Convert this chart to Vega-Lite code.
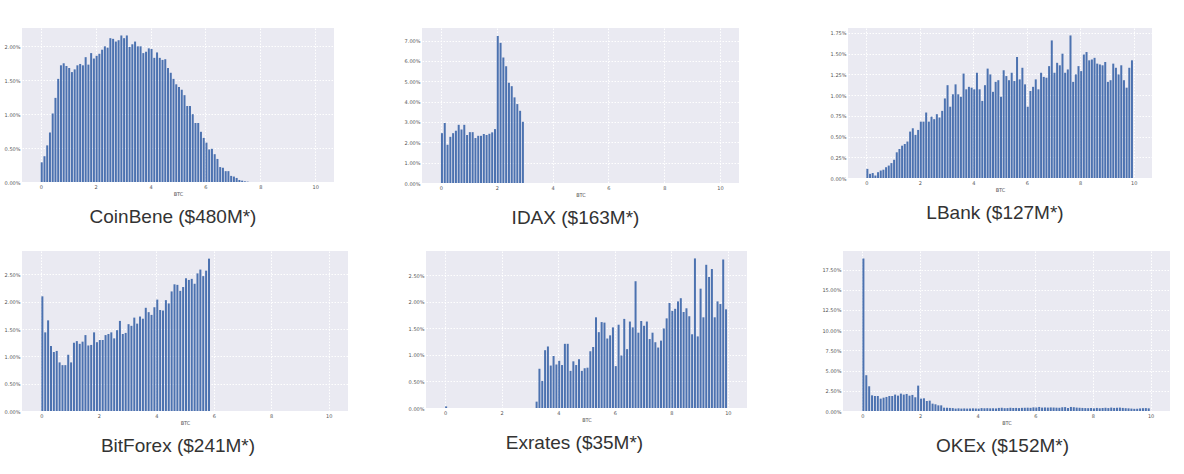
{
  "$schema": "https://vega.github.io/schema/vega-lite/v6.json",
  "padding": {"top": 28, "left": 0, "right": 0, "bottom": 0},
  "background": "white",
  "spacing": 23,
  "config": {
    "view": {"fill": "#EAEAF2", "stroke": null},
    "concat": {"spacing": 20},
    "axis": {
      "domain": false, "ticks": false, "grid": true, "gridColor": "#FFFFFF", "gridDash": [1.5, 1.5], "gridWidth": 1,
      "labelFontSize": 5, "labelColor": "#555555", "labelPadding": 2, "labelFont": "DejaVu Sans",
      "titleFontSize": 5, "titleFontWeight": "normal", "titleColor": "#555555", "titlePadding": 2, "titleFont": "DejaVu Sans"
    },
    "title": {"orient": "bottom", "fontSize": 19, "font": "Liberation Sans", "fontWeight": "normal", "color": "#333333", "offset": 12}
  },
  "datasets": {
    "coinbene": [
      {"btc":0.0,"pct":0.29},{"btc":0.1,"pct":0.38},{"btc":0.2,"pct":0.54},{"btc":0.3,"pct":0.73},{"btc":0.4,"pct":1.01},{"btc":0.5,"pct":1.24},{"btc":0.6,"pct":1.52},{"btc":0.7,"pct":1.72},{"btc":0.8,"pct":1.75},{"btc":0.9,"pct":1.71},
      {"btc":1.0,"pct":1.68},{"btc":1.1,"pct":1.62},{"btc":1.2,"pct":1.66},{"btc":1.3,"pct":1.72},{"btc":1.4,"pct":1.74},{"btc":1.5,"pct":1.72},{"btc":1.6,"pct":1.84},{"btc":1.7,"pct":1.73},{"btc":1.8,"pct":1.90},{"btc":1.9,"pct":1.82},
      {"btc":2.0,"pct":1.86},{"btc":2.1,"pct":1.89},{"btc":2.2,"pct":1.95},{"btc":2.3,"pct":2.00},{"btc":2.4,"pct":1.98},{"btc":2.5,"pct":2.12},{"btc":2.6,"pct":2.11},{"btc":2.7,"pct":2.07},{"btc":2.8,"pct":2.09},{"btc":2.9,"pct":2.16},
      {"btc":3.0,"pct":2.12},{"btc":3.1,"pct":2.16},{"btc":3.2,"pct":1.99},{"btc":3.3,"pct":2.03},{"btc":3.4,"pct":2.07},{"btc":3.5,"pct":2.00},{"btc":3.6,"pct":2.00},{"btc":3.7,"pct":1.90},{"btc":3.8,"pct":1.92},{"btc":3.9,"pct":1.97},
      {"btc":4.0,"pct":1.96},{"btc":4.1,"pct":1.83},{"btc":4.2,"pct":1.91},{"btc":4.3,"pct":1.83},{"btc":4.4,"pct":1.80},{"btc":4.5,"pct":1.81},{"btc":4.6,"pct":1.68},{"btc":4.7,"pct":1.61},{"btc":4.8,"pct":1.52},{"btc":4.9,"pct":1.44},
      {"btc":5.0,"pct":1.40},{"btc":5.1,"pct":1.36},{"btc":5.2,"pct":1.28},{"btc":5.3,"pct":1.12},{"btc":5.4,"pct":1.12},{"btc":5.5,"pct":1.00},{"btc":5.6,"pct":0.87},{"btc":5.7,"pct":0.87},{"btc":5.8,"pct":0.74},{"btc":5.9,"pct":0.65},
      {"btc":6.0,"pct":0.58},{"btc":6.1,"pct":0.48},{"btc":6.2,"pct":0.49},{"btc":6.3,"pct":0.41},{"btc":6.4,"pct":0.34},{"btc":6.5,"pct":0.22},{"btc":6.6,"pct":0.21},{"btc":6.7,"pct":0.16},{"btc":6.8,"pct":0.16},{"btc":6.9,"pct":0.09},
      {"btc":7.0,"pct":0.08},{"btc":7.1,"pct":0.06},{"btc":7.2,"pct":0.03},{"btc":7.3,"pct":0.02},{"btc":7.4,"pct":0.01},{"btc":7.5,"pct":0.005}
    ],
    "idax": [
      {"btc":0.0,"pct":2.45},{"btc":0.1,"pct":2.95},{"btc":0.2,"pct":1.88},{"btc":0.3,"pct":2.27},{"btc":0.4,"pct":2.45},{"btc":0.5,"pct":2.57},{"btc":0.6,"pct":2.86},{"btc":0.7,"pct":2.63},{"btc":0.8,"pct":2.86},{"btc":0.9,"pct":2.36},
      {"btc":1.0,"pct":2.50},{"btc":1.1,"pct":2.50},{"btc":1.2,"pct":2.21},{"btc":1.3,"pct":2.32},{"btc":1.4,"pct":2.32},{"btc":1.5,"pct":2.41},{"btc":1.6,"pct":2.36},{"btc":1.7,"pct":2.42},{"btc":1.8,"pct":2.49},{"btc":1.9,"pct":2.65},
      {"btc":2.0,"pct":7.23},{"btc":2.1,"pct":6.89},{"btc":2.2,"pct":6.17},{"btc":2.3,"pct":5.74},{"btc":2.4,"pct":4.93},{"btc":2.5,"pct":4.76},{"btc":2.6,"pct":4.21},{"btc":2.7,"pct":3.88},{"btc":2.8,"pct":3.55},{"btc":2.9,"pct":3.01}
    ],
    "lbank": [
      {"btc":0.0,"pct":0.11},{"btc":0.1,"pct":0.05},{"btc":0.2,"pct":0.06},{"btc":0.3,"pct":0.03},{"btc":0.4,"pct":0.07},{"btc":0.5,"pct":0.09},{"btc":0.6,"pct":0.10},{"btc":0.7,"pct":0.13},{"btc":0.8,"pct":0.15},{"btc":0.9,"pct":0.18},
      {"btc":1.0,"pct":0.22},{"btc":1.1,"pct":0.31},{"btc":1.2,"pct":0.35},{"btc":1.3,"pct":0.39},{"btc":1.4,"pct":0.41},{"btc":1.5,"pct":0.44},{"btc":1.6,"pct":0.56},{"btc":1.7,"pct":0.60},{"btc":1.8,"pct":0.52},{"btc":1.9,"pct":0.58},
      {"btc":2.0,"pct":0.68},{"btc":2.1,"pct":0.68},{"btc":2.2,"pct":0.79},{"btc":2.3,"pct":0.68},{"btc":2.4,"pct":0.74},{"btc":2.5,"pct":0.71},{"btc":2.6,"pct":0.77},{"btc":2.7,"pct":0.73},{"btc":2.8,"pct":0.81},{"btc":2.9,"pct":0.96},
      {"btc":3.0,"pct":1.12},{"btc":3.1,"pct":0.86},{"btc":3.2,"pct":1.01},{"btc":3.3,"pct":1.13},{"btc":3.4,"pct":1.01},{"btc":3.5,"pct":0.98},{"btc":3.6,"pct":1.26},{"btc":3.7,"pct":1.07},{"btc":3.8,"pct":1.10},{"btc":3.9,"pct":1.09},
      {"btc":4.0,"pct":1.07},{"btc":4.1,"pct":1.27},{"btc":4.2,"pct":1.07},{"btc":4.3,"pct":0.93},{"btc":4.4,"pct":1.12},{"btc":4.5,"pct":1.32},{"btc":4.6,"pct":1.25},{"btc":4.7,"pct":1.04},{"btc":4.8,"pct":1.16},{"btc":4.9,"pct":1.18},
      {"btc":5.0,"pct":0.98},{"btc":5.1,"pct":1.30},{"btc":5.2,"pct":1.23},{"btc":5.3,"pct":1.18},{"btc":5.4,"pct":1.27},{"btc":5.5,"pct":1.17},{"btc":5.6,"pct":1.46},{"btc":5.7,"pct":1.19},{"btc":5.8,"pct":1.33},{"btc":5.9,"pct":1.13},
      {"btc":6.0,"pct":0.86},{"btc":6.1,"pct":1.05},{"btc":6.2,"pct":1.10},{"btc":6.3,"pct":1.19},{"btc":6.4,"pct":1.07},{"btc":6.5,"pct":1.27},{"btc":6.6,"pct":1.22},{"btc":6.7,"pct":1.21},{"btc":6.8,"pct":1.35},{"btc":6.9,"pct":1.66},
      {"btc":7.0,"pct":1.27},{"btc":7.1,"pct":1.39},{"btc":7.2,"pct":1.36},{"btc":7.3,"pct":1.50},{"btc":7.4,"pct":1.27},{"btc":7.5,"pct":1.31},{"btc":7.6,"pct":1.72},{"btc":7.7,"pct":1.16},{"btc":7.8,"pct":1.25},{"btc":7.9,"pct":1.35},
      {"btc":8.0,"pct":1.29},{"btc":8.1,"pct":1.49},{"btc":8.2,"pct":1.52},{"btc":8.3,"pct":1.42},{"btc":8.4,"pct":1.43},{"btc":8.5,"pct":1.45},{"btc":8.6,"pct":1.38},{"btc":8.7,"pct":1.37},{"btc":8.8,"pct":1.36},{"btc":8.9,"pct":1.40},
      {"btc":9.0,"pct":1.16},{"btc":9.1,"pct":1.18},{"btc":9.2,"pct":1.38},{"btc":9.3,"pct":1.33},{"btc":9.4,"pct":1.25},{"btc":9.5,"pct":1.36},{"btc":9.6,"pct":1.18},{"btc":9.7,"pct":1.09},{"btc":9.8,"pct":1.33},{"btc":9.9,"pct":1.42}
    ],
    "bitforex": [
      {"btc":0.0,"pct":2.10},{"btc":0.1,"pct":1.44},{"btc":0.2,"pct":1.66},{"btc":0.3,"pct":1.19},{"btc":0.4,"pct":1.08},{"btc":0.5,"pct":1.10},{"btc":0.6,"pct":0.89},{"btc":0.7,"pct":0.84},{"btc":0.8,"pct":0.84},{"btc":0.9,"pct":1.03},
      {"btc":1.0,"pct":0.89},{"btc":1.1,"pct":1.25},{"btc":1.2,"pct":1.28},{"btc":1.3,"pct":1.23},{"btc":1.4,"pct":1.27},{"btc":1.5,"pct":1.39},{"btc":1.6,"pct":1.20},{"btc":1.7,"pct":1.21},{"btc":1.8,"pct":1.44},{"btc":1.9,"pct":1.26},
      {"btc":2.0,"pct":1.30},{"btc":2.1,"pct":1.30},{"btc":2.2,"pct":1.39},{"btc":2.3,"pct":1.41},{"btc":2.4,"pct":1.44},{"btc":2.5,"pct":1.33},{"btc":2.6,"pct":1.48},{"btc":2.7,"pct":1.65},{"btc":2.8,"pct":1.41},{"btc":2.9,"pct":1.43},
      {"btc":3.0,"pct":1.59},{"btc":3.1,"pct":1.56},{"btc":3.2,"pct":1.71},{"btc":3.3,"pct":1.60},{"btc":3.4,"pct":1.73},{"btc":3.5,"pct":1.69},{"btc":3.6,"pct":1.89},{"btc":3.7,"pct":1.81},{"btc":3.8,"pct":1.76},{"btc":3.9,"pct":1.90},
      {"btc":4.0,"pct":2.04},{"btc":4.1,"pct":1.85},{"btc":4.2,"pct":1.84},{"btc":4.3,"pct":2.03},{"btc":4.4,"pct":1.97},{"btc":4.5,"pct":2.19},{"btc":4.6,"pct":2.32},{"btc":4.7,"pct":2.31},{"btc":4.8,"pct":2.20},{"btc":4.9,"pct":2.27},
      {"btc":5.0,"pct":2.43},{"btc":5.1,"pct":2.40},{"btc":5.2,"pct":2.42},{"btc":5.3,"pct":2.33},{"btc":5.4,"pct":2.52},{"btc":5.5,"pct":2.59},{"btc":5.6,"pct":2.47},{"btc":5.7,"pct":2.57},{"btc":5.8,"pct":2.79}
    ],
    "exrates": [
      {"btc":0.0,"pct":0.03},
      {"btc":3.2,"pct":0.12},{"btc":3.3,"pct":0.74},{"btc":3.4,"pct":0.51},{"btc":3.5,"pct":1.09},{"btc":3.6,"pct":1.16},{"btc":3.7,"pct":0.80},{"btc":3.8,"pct":0.98},{"btc":3.9,"pct":0.82},
      {"btc":4.0,"pct":0.89},{"btc":4.1,"pct":0.81},{"btc":4.2,"pct":1.21},{"btc":4.3,"pct":1.21},{"btc":4.4,"pct":0.70},{"btc":4.5,"pct":0.88},{"btc":4.6,"pct":0.81},{"btc":4.7,"pct":0.92},{"btc":4.8,"pct":0.70},{"btc":4.9,"pct":0.75},
      {"btc":5.0,"pct":0.76},{"btc":5.1,"pct":1.07},{"btc":5.2,"pct":1.15},{"btc":5.3,"pct":1.71},{"btc":5.4,"pct":1.43},{"btc":5.5,"pct":1.62},{"btc":5.6,"pct":1.61},{"btc":5.7,"pct":1.31},{"btc":5.8,"pct":1.37},{"btc":5.9,"pct":1.52},
      {"btc":6.0,"pct":0.79},{"btc":6.1,"pct":1.57},{"btc":6.2,"pct":0.99},{"btc":6.3,"pct":1.68},{"btc":6.4,"pct":1.11},{"btc":6.5,"pct":1.63},{"btc":6.6,"pct":1.52},{"btc":6.7,"pct":2.39},{"btc":6.8,"pct":1.42},{"btc":6.9,"pct":1.64},
      {"btc":7.0,"pct":1.55},{"btc":7.1,"pct":1.63},{"btc":7.2,"pct":1.30},{"btc":7.3,"pct":1.42},{"btc":7.4,"pct":1.24},{"btc":7.5,"pct":1.14},{"btc":7.6,"pct":1.27},{"btc":7.7,"pct":1.50},{"btc":7.8,"pct":1.69},{"btc":7.9,"pct":1.98},
      {"btc":8.0,"pct":1.83},{"btc":8.1,"pct":1.87},{"btc":8.2,"pct":2.01},{"btc":8.3,"pct":2.07},{"btc":8.4,"pct":1.81},{"btc":8.5,"pct":1.88},{"btc":8.6,"pct":1.73},{"btc":8.7,"pct":1.39},{"btc":8.8,"pct":2.82},{"btc":8.9,"pct":1.35},
      {"btc":9.0,"pct":2.25},{"btc":9.1,"pct":1.71},{"btc":9.2,"pct":2.70},{"btc":9.3,"pct":2.47},{"btc":9.4,"pct":2.62},{"btc":9.5,"pct":1.71},{"btc":9.6,"pct":2.01},{"btc":9.7,"pct":1.96},{"btc":9.8,"pct":2.80},{"btc":9.9,"pct":1.86}
    ],
    "okex": [
      {"btc":0.0,"pct":18.87},{"btc":0.1,"pct":4.43},{"btc":0.2,"pct":3.06},{"btc":0.3,"pct":1.94},{"btc":0.4,"pct":1.86},{"btc":0.5,"pct":1.86},{"btc":0.6,"pct":1.53},{"btc":0.7,"pct":1.65},{"btc":0.8,"pct":1.74},{"btc":0.9,"pct":1.86},
      {"btc":1.0,"pct":1.86},{"btc":1.1,"pct":2.03},{"btc":1.2,"pct":1.90},{"btc":1.3,"pct":2.15},{"btc":1.4,"pct":2.03},{"btc":1.5,"pct":2.11},{"btc":1.6,"pct":1.90},{"btc":1.7,"pct":1.99},{"btc":1.8,"pct":1.70},{"btc":1.9,"pct":3.14},
      {"btc":2.0,"pct":1.53},{"btc":2.1,"pct":1.57},{"btc":2.2,"pct":1.24},{"btc":2.3,"pct":1.28},{"btc":2.4,"pct":0.91},{"btc":2.5,"pct":0.83},{"btc":2.6,"pct":0.70},{"btc":2.7,"pct":0.70},{"btc":2.8,"pct":0.41},{"btc":2.9,"pct":0.40},
      {"btc":3.0,"pct":0.38},{"btc":3.1,"pct":0.36},{"btc":3.2,"pct":0.30},{"btc":3.3,"pct":0.33},{"btc":3.4,"pct":0.30},{"btc":3.5,"pct":0.32},{"btc":3.6,"pct":0.30},{"btc":3.7,"pct":0.31},{"btc":3.8,"pct":0.33},{"btc":3.9,"pct":0.31},
      {"btc":4.0,"pct":0.30},{"btc":4.1,"pct":0.36},{"btc":4.2,"pct":0.34},{"btc":4.3,"pct":0.35},{"btc":4.4,"pct":0.33},{"btc":4.5,"pct":0.34},{"btc":4.6,"pct":0.32},{"btc":4.7,"pct":0.38},{"btc":4.8,"pct":0.40},{"btc":4.9,"pct":0.35},
      {"btc":5.0,"pct":0.36},{"btc":5.1,"pct":0.40},{"btc":5.2,"pct":0.37},{"btc":5.3,"pct":0.38},{"btc":5.4,"pct":0.36},{"btc":5.5,"pct":0.39},{"btc":5.6,"pct":0.40},{"btc":5.7,"pct":0.41},{"btc":5.8,"pct":0.39},{"btc":5.9,"pct":0.45},
      {"btc":6.0,"pct":0.43},{"btc":6.1,"pct":0.50},{"btc":6.2,"pct":0.42},{"btc":6.3,"pct":0.44},{"btc":6.4,"pct":0.42},{"btc":6.5,"pct":0.44},{"btc":6.6,"pct":0.43},{"btc":6.7,"pct":0.41},{"btc":6.8,"pct":0.40},{"btc":6.9,"pct":0.46},
      {"btc":7.0,"pct":0.48},{"btc":7.1,"pct":0.37},{"btc":7.2,"pct":0.50},{"btc":7.3,"pct":0.47},{"btc":7.4,"pct":0.42},{"btc":7.5,"pct":0.40},{"btc":7.6,"pct":0.38},{"btc":7.7,"pct":0.36},{"btc":7.8,"pct":0.35},{"btc":7.9,"pct":0.37},
      {"btc":8.0,"pct":0.33},{"btc":8.1,"pct":0.38},{"btc":8.2,"pct":0.35},{"btc":8.3,"pct":0.37},{"btc":8.4,"pct":0.40},{"btc":8.5,"pct":0.36},{"btc":8.6,"pct":0.42},{"btc":8.7,"pct":0.38},{"btc":8.8,"pct":0.40},{"btc":8.9,"pct":0.42},
      {"btc":9.0,"pct":0.38},{"btc":9.1,"pct":0.35},{"btc":9.2,"pct":0.33},{"btc":9.3,"pct":0.30},{"btc":9.4,"pct":0.27},{"btc":9.5,"pct":0.28},{"btc":9.6,"pct":0.32},{"btc":9.7,"pct":0.35},{"btc":9.8,"pct":0.36},{"btc":9.9,"pct":0.33}
    ]
  },
  "vconcat": [
    {
      "hconcat": [
        {
          "width": 312, "height": 154,
          "title": {"text": "CoinBene ($480M*)", "dx": -5},
          "data": {"name": "coinbene"},
          "mark": {"type": "bar", "color": "#4C72B0", "size": 2, "xOffset": 1},
          "encoding": {
            "x": {"field": "btc", "type": "quantitative", "scale": {"domain": [-0.5, 10.5], "nice": false, "zero": false}, "axis": {"values": [0, 2, 4, 6, 8, 10], "title": "BTC", "format": "d"}},
            "y": {"field": "pct", "type": "quantitative", "scale": {"domain": [0, 2.27], "nice": false}, "axis": {"values": [0, 0.5, 1, 1.5, 2], "title": null, "minExtent": 22, "labelExpr": "format(datum.value, '.2f') + '%'"}}
          }
        },
        {
          "width": 317, "height": 155,
          "title": {"text": "IDAX ($163M*)", "dx": -5},
          "data": {"name": "idax"},
          "mark": {"type": "bar", "color": "#4C72B0", "size": 2, "xOffset": 1},
          "encoding": {
            "x": {"field": "btc", "type": "quantitative", "scale": {"domain": [-0.5, 10.5], "nice": false, "zero": false}, "axis": {"values": [0, 2, 4, 6, 8, 10], "title": "BTC", "format": "d"}},
            "y": {"field": "pct", "type": "quantitative", "scale": {"domain": [0, 7.62], "nice": false}, "axis": {"values": [0, 1, 2, 3, 4, 5, 6, 7], "title": null, "minExtent": 68, "labelExpr": "format(datum.value, '.2f') + '%'"}}
          }
        },
        {
          "width": 304, "height": 150,
          "title": {"text": "LBank ($127M*)", "dx": -5},
          "data": {"name": "lbank"},
          "mark": {"type": "bar", "color": "#4C72B0", "size": 2, "xOffset": 1},
          "encoding": {
            "x": {"field": "btc", "type": "quantitative", "scale": {"domain": [-0.5, 10.5], "nice": false, "zero": false}, "axis": {"values": [0, 2, 4, 6, 8, 10], "title": "BTC", "format": "d"}},
            "y": {"field": "pct", "type": "quantitative", "scale": {"domain": [0, 1.81], "nice": false}, "axis": {"values": [0, 0.25, 0.5, 0.75, 1, 1.25, 1.5, 1.75], "title": null, "minExtent": 89, "labelExpr": "format(datum.value, '.2f') + '%'"}}
          }
        }
      ]
    },
    {
      "hconcat": [
        {
          "width": 326, "height": 160,
          "title": {"text": "BitForex ($241M*)", "dx": -7},
          "data": {"name": "bitforex"},
          "mark": {"type": "bar", "color": "#4C72B0", "size": 2, "xOffset": 1},
          "encoding": {
            "x": {"field": "btc", "type": "quantitative", "scale": {"domain": [-0.5, 10.5], "nice": false, "zero": false}, "axis": {"values": [0, 2, 4, 6, 8, 10], "title": "BTC", "format": "d"}},
            "y": {"field": "pct", "type": "quantitative", "scale": {"domain": [0, 2.93], "nice": false}, "axis": {"values": [0, 0.5, 1, 1.5, 2, 2.5], "title": null, "minExtent": 16, "labelExpr": "format(datum.value, '.2f') + '%'"}}
          }
        },
        {
          "width": 321, "height": 157,
          "title": {"text": "Exrates ($35M*)", "dx": -12},
          "data": {"name": "exrates"},
          "mark": {"type": "bar", "color": "#4C72B0", "size": 2, "xOffset": 1},
          "encoding": {
            "x": {"field": "btc", "type": "quantitative", "scale": {"domain": [-0.5, 10.5], "nice": false, "zero": false}, "axis": {"values": [0, 2, 4, 6, 8, 10], "title": "BTC", "format": "d"}},
            "y": {"field": "pct", "type": "quantitative", "scale": {"domain": [0, 2.96], "nice": false}, "axis": {"values": [0, 0.5, 1, 1.5, 2, 2.5], "title": null, "minExtent": 58, "labelExpr": "format(datum.value, '.2f') + '%'"}}
          }
        },
        {
          "width": 327, "height": 160,
          "title": {"text": "OKEx ($152M*)", "dx": -4},
          "data": {"name": "okex"},
          "mark": {"type": "bar", "color": "#4C72B0", "size": 2, "xOffset": 1},
          "encoding": {
            "x": {"field": "btc", "type": "quantitative", "scale": {"domain": [-0.5, 10.5], "nice": false, "zero": false}, "axis": {"values": [0, 2, 4, 6, 8, 10], "title": "BTC", "format": "d"}},
            "y": {"field": "pct", "type": "quantitative", "scale": {"domain": [0, 19.8], "nice": false}, "axis": {"values": [0, 2.5, 5, 7.5, 10, 12.5, 15, 17.5], "title": null, "minExtent": 76, "labelExpr": "format(datum.value, '.2f') + '%'"}}
          }
        }
      ]
    }
  ]
}
